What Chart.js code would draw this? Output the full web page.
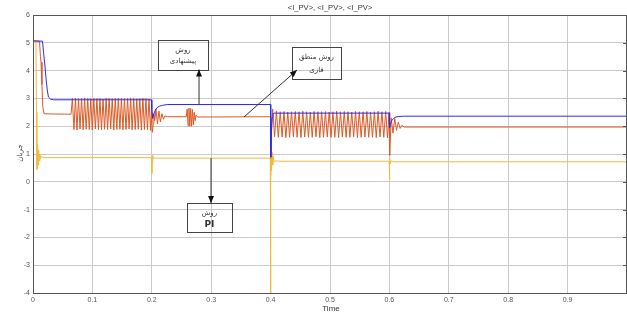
<!DOCTYPE html>
<html>
<head>
<meta charset="utf-8">
<script src="https://cdn.jsdelivr.net/npm/chart.js@4.4.0/dist/chart.umd.min.js"></script>
<style>
  html, body { margin: 0; padding: 0; background: #fff; }
</style>
</head>
<body>
<canvas id="mychart" width="627" height="330"></canvas>
<script>
// axis ticks
const xTicks = [0, 0.1, 0.2, 0.3, 0.4, 0.5, 0.6, 0.7, 0.8, 0.9];
const xTickLabels = ['0', '0.1', '0.2', '0.3', '0.4', '0.5', '0.6', '0.7', '0.8', '0.9'];
const yTicks = [-4, -3, -2, -1, 0, 1, 2, 3, 4, 5, 6];

// blue: proposed method
const blueT = [0, 0.016, 0.018, 0.02, 0.022, 0.024, 0.026, 0.03, 0.035, 0.1995, 0.2, 0.2015, 0.2035, 0.206, 0.209, 0.213, 0.218, 0.226, 0.3998, 0.4003, 0.4012, 0.4025, 0.404, 0.406, 0.5995, 0.6003, 0.6015, 0.604, 0.607, 0.611, 0.616, 0.625, 1.0];
const blueV = [5.07, 5.06, 4.6, 4.2, 3.7, 3.3, 3.05, 2.97, 2.95, 2.95, 2.6, 2.28, 2.45, 2.58, 2.67, 2.72, 2.75, 2.78, 2.78, 0.9, 1.7, 2.3, 2.45, 2.47, 2.47, 1.95, 2.05, 2.2, 2.28, 2.33, 2.35, 2.36, 2.36];

// orange: fuzzy method, in pieces
const orangeStartT = [0, 0.011, 0.0125, 0.0135, 0.015, 0.0165, 0.0185, 0.03, 0.064];
const orangeStartV = [5.07, 5.05, 4.5, 4.3, 3.5, 2.7, 2.45, 2.44, 2.43];
const orangeOsc1T = [0.0663, 0.0689, 0.0715, 0.0740, 0.0766, 0.0792, 0.0818, 0.0844, 0.0869, 0.0895, 0.0921, 0.0947, 0.0973, 0.0998, 0.1024, 0.1050, 0.1076, 0.1102, 0.1127, 0.1153, 0.1179, 0.1205, 0.1231, 0.1256, 0.1282, 0.1308, 0.1334, 0.1360, 0.1385, 0.1411, 0.1437, 0.1463, 0.1489, 0.1514, 0.1540, 0.1566, 0.1592, 0.1618, 0.1643, 0.1669, 0.1695, 0.1721, 0.1747, 0.1772, 0.1798, 0.1824, 0.1850, 0.1876, 0.1901, 0.1927, 0.1953, 0.1979];
const orangeOsc1V = [3.0, 1.88, 3.01, 1.86, 2.99, 1.9, 3.0, 1.87, 3.02, 1.89, 3.0, 1.88, 2.99, 1.86, 3.01, 1.9, 3.0, 1.88, 3.0, 1.87, 2.98, 1.89, 3.01, 1.88, 3.0, 1.9, 2.99, 1.86, 3.0, 1.88, 3.01, 1.89, 3.0, 1.87, 2.99, 1.88, 3.0, 1.9, 3.02, 1.87, 3.0, 1.88, 2.99, 1.89, 3.0, 1.86, 3.01, 1.88, 3.0, 1.87, 2.98, 1.85];
const orangeMidT = [0.1995, 0.2, 0.201, 0.2025, 0.2035, 0.205, 0.207, 0.2095, 0.212, 0.2145, 0.217, 0.2195, 0.222, 0.226, 0.258, 0.2595, 0.261, 0.2625, 0.264, 0.2655, 0.267, 0.2685, 0.27, 0.2715, 0.273, 0.2745, 0.277, 0.3998, 0.4002, 0.4018];
const orangeMidV = [2.6, 2.1, 1.78, 2.1, 2.45, 2.2, 2.62, 2.08, 2.55, 2.15, 2.45, 2.25, 2.37, 2.34, 2.34, 2.62, 2.02, 2.65, 2.0, 2.64, 2.0, 2.6, 2.05, 2.5, 2.2, 2.4, 2.33, 2.34, 0.85, 2.0];
const orangeOsc2T = [0.4035, 0.4067, 0.4098, 0.4130, 0.4162, 0.4194, 0.4225, 0.4257, 0.4289, 0.4320, 0.4352, 0.4384, 0.4415, 0.4447, 0.4479, 0.4511, 0.4542, 0.4574, 0.4606, 0.4637, 0.4669, 0.4701, 0.4732, 0.4764, 0.4796, 0.4828, 0.4859, 0.4891, 0.4923, 0.4954, 0.4986, 0.5018, 0.5049, 0.5081, 0.5113, 0.5145, 0.5176, 0.5208, 0.5240, 0.5271, 0.5303, 0.5335, 0.5366, 0.5398, 0.5430, 0.5462, 0.5493, 0.5525, 0.5557, 0.5588, 0.5620, 0.5652, 0.5683, 0.5715, 0.5747, 0.5779, 0.5810, 0.5842, 0.5874, 0.5905, 0.5937, 0.5969];
const orangeOsc2V = [2.62, 1.62, 2.55, 1.6, 2.52, 1.61, 2.53, 1.59, 2.51, 1.6, 2.52, 1.62, 2.53, 1.6, 2.52, 1.59, 2.54, 1.61, 2.52, 1.6, 2.51, 1.6, 2.53, 1.62, 2.52, 1.59, 2.52, 1.6, 2.53, 1.61, 2.51, 1.6, 2.52, 1.6, 2.54, 1.59, 2.52, 1.61, 2.53, 1.6, 2.52, 1.6, 2.51, 1.62, 2.53, 1.59, 2.52, 1.6, 2.52, 1.61, 2.53, 1.6, 2.51, 1.6, 2.52, 1.59, 2.54, 1.61, 2.52, 1.6, 2.53, 1.58];
const orangeEndT = [0.5995, 0.6, 0.6008, 0.603, 0.606, 0.609, 0.612, 0.615, 0.618, 0.621, 0.625, 1.0];
const orangeEndV = [2.5, 1.9, 0.95, 2.3, 1.75, 2.28, 1.85, 2.15, 1.92, 2.03, 1.97, 1.97];

// yellow: PI method
const yellowT = [0, 0.0005, 0.005, 0.0058, 0.0066, 0.0076, 0.0085, 0.0095, 0.0105, 0.0115, 0.0125, 0.014, 0.016, 0.02, 0.1995, 0.2, 0.2008, 0.2015, 0.203, 0.206, 0.21, 0.3995, 0.4, 0.4004, 0.4008, 0.4015, 0.4025, 0.4035, 0.4045, 0.406, 0.409, 0.413, 0.5995, 0.6, 0.6008, 0.6015, 0.603, 0.607, 1.0];
const yellowV = [0, 5.07, 5.05, 2.5, 0.45, 1.35, 0.6, 1.15, 0.75, 1.0, 0.82, 0.92, 0.88, 0.87, 0.87, 0.3, 0.7, 0.95, 0.84, 0.85, 0.85, 0.85, -4.0, 0.2, 1.3, 0.4, 1.05, 0.6, 0.9, 0.72, 0.76, 0.74, 0.74, 0.08, 0.85, 0.65, 0.75, 0.72, 0.72];

function toPoints(ts, vs) {
  return ts.map((t, i) => ({ x: t, y: vs[i] }));
}

const bluePts = toPoints(blueT, blueV);
const orangePts = [].concat(
  toPoints(orangeStartT, orangeStartV),
  toPoints(orangeOsc1T, orangeOsc1V),
  toPoints(orangeMidT, orangeMidV),
  toPoints(orangeOsc2T, orangeOsc2V),
  toPoints(orangeEndT, orangeEndV)
);
const yellowPts = toPoints(yellowT, yellowV);

// annotation boxes (data coords) and their arrows
const notes = [
  { box: [0.2104, 0.2946, 5.10, 4.02], cx: 0.2525, lines: [['روش', 4.74, 7], ['پیشنهادی', 4.35, 7]],
    arrow: [0.2795, 2.78, 0.2795, 4.04] },
  { box: [0.436, 0.5185, 4.85, 3.70], cx: 0.4773, lines: [['روش منطق', 4.49, 7], ['فازی', 4.02, 7]],
    arrow: [0.3552, 2.33, 0.4444, 4.02] },
  { box: [0.2593, 0.335, -0.76, -1.81], cx: 0.2971, lines: [['روش', -1.12, 7], ['PI', -1.55, 9]],
    arrow: [0.2997, 0.85, 0.2997, -0.76] }
];

const textFont = '"DejaVu Sans", "Liberation Sans", sans-serif';

function arrowHead(ctx, x0, y0, x1, y1) {
  const ang = Math.atan2(y1 - y0, x1 - x0);
  const len = 7, half = 3;
  ctx.beginPath();
  ctx.moveTo(x1, y1);
  ctx.lineTo(x1 - len * Math.cos(ang) + half * Math.sin(ang), y1 - len * Math.sin(ang) - half * Math.cos(ang));
  ctx.lineTo(x1 - len * Math.cos(ang) - half * Math.sin(ang), y1 - len * Math.sin(ang) + half * Math.cos(ang));
  ctx.closePath();
  ctx.fill();
}

const overlay = {
  id: 'overlay',
  afterDraw(chart) {
    const { ctx, chartArea: a, scales: { x, y } } = chart;
    ctx.save();

    // plot frame
    ctx.strokeStyle = '#555';
    ctx.lineWidth = 1;
    ctx.strokeRect(a.left + 0.5, a.top + 0.5, a.right - a.left - 1, a.bottom - a.top);
    // inner ticks on right side
    yTicks.forEach(v => {
      const py = Math.round(y.getPixelForValue(v)) + 0.5;
      ctx.beginPath();
      ctx.moveTo(a.right - 4, py);
      ctx.lineTo(a.right, py);
      ctx.stroke();
    });

    // title
    ctx.fillStyle = '#333';
    ctx.font = '7.6px "Liberation Sans", Arial, sans-serif';
    ctx.textAlign = 'center';
    ctx.textBaseline = 'middle';
    ctx.fillText('<I_PV>, <I_PV>, <I_PV>', 330, 8);

    // x title
    ctx.font = '8px "Liberation Sans", Arial, sans-serif';
    ctx.fillText('Time', 331, 309);

    // y title
    ctx.save();
    ctx.translate(20, 153);
    ctx.rotate(-Math.PI / 2);
    ctx.font = '7px ' + textFont;
    ctx.fillText('جریان', 0, 0);
    ctx.restore();

    // annotations
    notes.forEach(n => {
      const [t0, t1, v0, v1] = n.box;
      const bx = x.getPixelForValue(t0), by = y.getPixelForValue(v0);
      const bw = x.getPixelForValue(t1) - bx, bh = y.getPixelForValue(v1) - by;
      ctx.strokeStyle = '#444';
      ctx.lineWidth = 1;
      ctx.strokeRect(Math.round(bx) + 0.5, Math.round(by) + 0.5, Math.round(bw), Math.round(bh));

      const [a0, b0, a1, b1] = n.arrow;
      const ax0 = x.getPixelForValue(a0), ay0 = y.getPixelForValue(b0);
      const ax1 = x.getPixelForValue(a1), ay1 = y.getPixelForValue(b1);
      ctx.strokeStyle = '#333';
      ctx.beginPath();
      ctx.moveTo(ax0, ay0);
      ctx.lineTo(ax1, ay1);
      ctx.stroke();
      ctx.fillStyle = '#111';
      arrowHead(ctx, ax0, ay0, ax1, ay1);

      ctx.fillStyle = '#333';
      n.lines.forEach(([txt, v, size]) => {
        ctx.font = (txt === 'PI' ? 'bold ' : '') + size + 'px ' + textFont;
        ctx.fillText(txt, x.getPixelForValue(n.cx), y.getPixelForValue(v));
      });
    });

    ctx.restore();
  }
};

const ctx = document.getElementById('mychart');

new Chart(ctx, {
  type: 'line',
  data: {
    datasets: [
      { label: 'proposed', data: bluePts, borderColor: '#2a2af0', borderWidth: 1 },
      { label: 'fuzzy', data: orangePts, borderColor: '#db5a26', borderWidth: 1 },
      { label: 'PI', data: yellowPts, borderColor: '#f0bb3a', borderWidth: 1 }
    ]
  },
  options: {
    responsive: false,
    animation: false,
    parsing: false,
    elements: { point: { radius: 0 }, line: { tension: 0 } },
    layout: { padding: { top: 15, left: 0, right: 0, bottom: 0 } },
    plugins: {
      legend: { display: false },
      tooltip: { enabled: false }
    },
    scales: {
      x: {
        type: 'linear',
        min: 0,
        max: 1,
        afterBuildTicks: s => { s.ticks = xTicks.map(v => ({ value: v })); },
        afterFit: s => { s.height = 37; },
        grid: { color: '#cacaca', drawTicks: false },
        border: { color: '#555' },
        ticks: {
          color: '#555',
          padding: 3,
          maxRotation: 0,
          font: { size: 7, family: '"Liberation Sans", Arial, sans-serif' },
          callback: (v, i) => xTickLabels[i]
        }
      },
      y: {
        min: -4,
        max: 6,
        afterBuildTicks: s => { s.ticks = yTicks.map(v => ({ value: v })); },
        afterFit: s => { s.width = 33; },
        grid: { color: '#cacaca', drawTicks: false },
        border: { color: '#555' },
        ticks: {
          color: '#555',
          padding: 3,
          font: { size: 7, family: '"Liberation Sans", Arial, sans-serif' },
          callback: v => String(v)
        }
      }
    }
  },
  plugins: [overlay]
});
</script>
</body>
</html>
